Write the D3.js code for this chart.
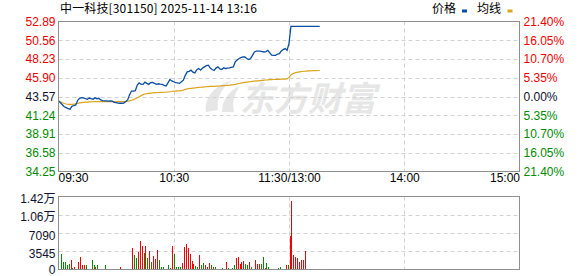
<!DOCTYPE html>
<html>
<head>
<meta charset="utf-8">
<script src="https://cdn.jsdelivr.net/npm/d3@7"></script>
<style>
  body { margin: 0; background: #fff; }
  svg { display: block; font-family: "Liberation Sans", Arial, sans-serif; }
</style>
</head>
<body>
<div class="chart"></div>
<script>
// quote header
const TITLE = "中一科技[301150] 2025-11-14 13:16";
const PREV_CLOSE = 43.57;

// price axis ticks and labels
const priceTicks = [34.25, 36.58, 38.91, 41.24, 43.57, 45.90, 48.23, 50.56, 52.89];
const pctLabels = ["21.40%", "16.05%", "10.70%", "5.35%", "0.00%", "5.35%", "10.70%", "16.05%", "21.40%"];
const timeTicks = [0, 60, 120, 180, 240];
const timeLabels = ["09:30", "10:30", "11:30/13:00", "14:00", "15:00"];

// volume axis
const volTicks = [0, 3545, 7090, 10635, 14180];
const volLabels = ["0", "3545", "7090", "1.06万", "1.42万"];

// minute prices from 09:30 (index 0) to 13:16 (index 136)
const prices = [
  43.02, 42.80, 42.55, 42.30, 42.19, 42.05, 41.99, 42.35, 42.45, 42.52,
  43.10, 43.35, 43.42, 43.40, 43.30, 43.22, 43.38, 43.30, 43.22, 43.40,
  43.28, 43.35, 43.14, 43.05, 43.02, 43.02, 43.00, 43.02, 43.00, 42.85,
  42.80, 42.75, 42.73, 42.73, 42.75, 42.95, 43.14, 43.80, 44.25, 44.25,
  44.30, 45.00, 45.27, 45.10, 45.08, 45.36, 45.20, 45.08, 45.30, 45.33,
  45.20, 45.08, 45.15, 45.10, 45.08, 44.95, 44.87, 45.27, 45.69, 45.50,
  45.40, 45.30, 45.25, 45.20, 45.40, 45.60, 46.20, 46.63, 46.70, 46.84,
  46.60, 46.51, 46.90, 47.05, 46.84, 47.10, 47.25, 47.40, 47.46, 47.10,
  46.93, 46.80, 47.10, 47.25, 47.00, 46.93, 47.13, 47.05, 47.10, 47.13,
  47.20, 47.25, 47.87, 48.10, 48.29, 48.40, 48.48, 48.48, 48.29, 48.16,
  48.30, 48.69, 49.10, 49.22, 49.22, 49.20, 49.15, 49.10, 49.15, 49.31,
  49.00, 48.70, 48.69, 48.69, 48.85, 48.90, 49.22, 49.40, 49.52, 49.31,
  50.17, 52.28, 52.28, 52.28, 52.28, 52.28, 52.28, 52.28, 52.28, 52.28,
  52.28, 52.28, 52.28, 52.28, 52.28, 52.28, 52.28
];

// average price line, same minutes
const avgPrices = [
  43.02, 42.92, 42.80, 42.70, 42.64, 42.60, 42.58, 42.60, 42.63, 42.66,
  42.72, 42.77, 42.80, 42.83, 42.86, 42.88, 42.90, 42.91, 42.92, 42.93,
  42.93, 42.93, 42.93, 42.93, 42.93, 42.93, 42.93, 42.93, 42.93, 42.93,
  42.93, 42.93, 42.93, 42.93, 42.94, 42.95, 42.98, 43.02, 43.10, 43.18,
  43.28, 43.42, 43.55, 43.68, 43.80, 43.88, 43.93, 43.97, 44.00, 44.03,
  44.05, 44.06, 44.07, 44.08, 44.09, 44.10, 44.11, 44.13, 44.16, 44.19,
  44.23, 44.25, 44.27, 44.28, 44.30, 44.38, 44.46, 44.52, 44.56, 44.59,
  44.62, 44.64, 44.67, 44.70, 44.72, 44.74, 44.76, 44.78, 44.80, 44.82,
  44.83, 44.84, 44.86, 44.87, 44.88, 44.90, 44.92, 44.94, 44.96, 44.98,
  45.01, 45.04, 45.08, 45.13, 45.19, 45.24, 45.29, 45.33, 45.36, 45.39,
  45.41, 45.44, 45.47, 45.50, 45.52, 45.55, 45.58, 45.60, 45.62, 45.64,
  45.66, 45.67, 45.68, 45.69, 45.70, 45.71, 45.72, 45.73, 45.74, 45.76,
  45.94, 46.25, 46.40, 46.50, 46.56, 46.61, 46.65, 46.68, 46.71, 46.73,
  46.75, 46.76, 46.77, 46.78, 46.79, 46.80, 46.80
];

// minute volumes from index 1 (09:31) to 136 (13:16)
const volumes = [
  3100, 1550, 1420, 840, 1160, 1940, 320, 450, 190, 1360,
  2520, 970, 840, 970, 190, 190, 1750, 780, 450, 780,
  190, 190, 190, 780, 160, 130, 130, 130, 130, 130,
  130, 390, 190, 190, 190, 190, 190, 4080, 2720, 2140,
  3490, 5630, 4530, 3300, 4530, 2200, 3560, 1360, 2590, 2010,
  3880, 1940, 390, 390, 190, 190, 970, 320, 4660, 3100,
  450, 390, 390, 1230, 4330, 5050, 4080, 3100, 1620, 1160,
  710, 390, 2720, 970, 1290, 840, 450, 1230, 840, 390,
  390, 190, 190, 190, 320, 190, 1490, 320, 190, 260,
  840, 2330, 2520, 1160, 1420, 1620, 1160, 840, 1490, 390,
  190, 1940, 1160, 1160, 1160, 2520, 320, 1290, 390, 190,
  190, 190, 190, 320, 450, 190, 190, 780, 780, 6470,
  13400, 2720, 2520, 2330, 1550, 1750, 1940, 3690, 190, 190,
  190, 190, 190, 190, 190, 190
];
// 1 = up (red), 0 = down (green)
const volUp = [
  0,0,0,0,0,1,0,1,1,1, 1,1,1,0,1,0,0,0,1,0,
  0,0,0,0,1,0,1,0,1,1, 0,1,1,1,1,1,1,1,0,0,
  1,1,1,0,1,0,1,0,1,1, 1,0,0,0,1,1,0,1,1,0,
  0,0,0,1,1,1,1,1,1,1, 0,0,1,0,0,1,1,1,0,1,
  0,1,1,0,0,1,1,0,1,0, 0,1,1,1,1,1,0,0,1,0,
  1,1,1,1,0,0,1,0,0,0, 0,1,1,0,0,1,1,1,0,1,
  1,1,1,1,1,1,1,1,1,1, 1,1,1,1,1,1
];

const RED = "#f00000";
const GREEN = "#008a00";
const DARK = "#101030";
const GRID = "#d2d2d2";
const BORDER = "#8f8f8f";
const BLUE = "#0b4da1";
const GOLD = "#dca31c";

const W = 578, H = 276;
const left = 58.5, right = 519.5;
const pTop = 21.5, pBottom = 171.5;
const vTop = 196.5, vBottom = 269.5;

const svg = d3.select(".chart").append("svg").attr("width", W).attr("height", H);

const x = d3.scaleLinear().domain([0, 240]).range([left, right]);
const yPrice = d3.scaleLinear().domain([34.25, 52.89]).range([pBottom, pTop]);
const yVol = d3.scaleLinear().domain([0, 14180]).range([vBottom, vTop]);

function colorFor(v) {
  if (Math.abs(v - PREV_CLOSE) < 0.001) return DARK;
  return v > PREV_CLOSE ? RED : GREEN;
}

// title + legend
svg.append("text")
  .attr("x", 60).attr("y", 13)
  .attr("font-family", "'Noto Sans CJK SC', sans-serif")
  .attr("font-size", 12)
  .attr("textLength", 197).attr("lengthAdjust", "spacing")
  .attr("fill", "#000")
  .text(TITLE);

const legend = svg.append("g").attr("font-family", "'Noto Sans CJK SC', sans-serif").attr("font-size", 12);
legend.append("text").attr("x", 432).attr("y", 13).text("价格");
legend.append("rect").attr("x", 462).attr("y", 9.5).attr("width", 5).attr("height", 3).attr("fill", BLUE);
legend.append("text").attr("x", 477).attr("y", 13).text("均线");
legend.append("rect").attr("x", 507.5).attr("y", 9.5).attr("width", 5).attr("height", 3).attr("fill", GOLD);

// watermark
const wm = svg.append("g").attr("fill", "#e6e6e6");
wm.append("path")
  .attr("d", "M206,112 C204,98 214,86 232,80 C222,88 216,98 218,110 Z M222,112 C222,100 230,90 240,86 C234,94 232,102 234,112 Z");
wm.append("text")
  .attr("x", 240).attr("y", 111)
  .attr("font-family", "'Noto Sans CJK SC', sans-serif")
  .attr("font-weight", "bold").attr("font-style", "italic")
  .attr("font-size", 34)
  .text("东方财富");

// price grid
const pGrid = svg.append("g");
pGrid.selectAll("line.h")
  .data(priceTicks.slice(1, -1))
  .join("line")
  .attr("class", "h")
  .attr("x1", left).attr("x2", right)
  .attr("y1", d => Math.round(yPrice(d)) + 0.5).attr("y2", d => Math.round(yPrice(d)) + 0.5)
  .attr("stroke", GRID).attr("stroke-dasharray", "4,3");
pGrid.selectAll("line.v")
  .data(timeTicks.slice(1, -1))
  .join("line")
  .attr("class", "v")
  .attr("x1", d => Math.round(x(d)) + 0.5).attr("x2", d => Math.round(x(d)) + 0.5)
  .attr("y1", pTop).attr("y2", pBottom)
  .attr("stroke", GRID).attr("stroke-dasharray", "4,3");

// volume grid
const vGrid = svg.append("g");
vGrid.selectAll("line.h")
  .data(volTicks.slice(1, -1))
  .join("line")
  .attr("class", "h")
  .attr("x1", left).attr("x2", right)
  .attr("y1", d => Math.round(yVol(d)) + 0.5).attr("y2", d => Math.round(yVol(d)) + 0.5)
  .attr("stroke", GRID).attr("stroke-dasharray", "4,3");
vGrid.selectAll("line.v")
  .data(timeTicks.slice(1, -1))
  .join("line")
  .attr("class", "v")
  .attr("x1", d => Math.round(x(d)) + 0.5).attr("x2", d => Math.round(x(d)) + 0.5)
  .attr("y1", vTop).attr("y2", vBottom)
  .attr("stroke", GRID).attr("stroke-dasharray", "4,3");

// volume bars
svg.append("g").selectAll("rect")
  .data(volumes)
  .join("rect")
  .attr("x", (d, i) => Math.floor(x(i + 1)) + 1)
  .attr("width", 1)
  .attr("y", d => Math.round(yVol(d)))
  .attr("height", d => Math.max(1, Math.round(vBottom - yVol(d))))
  .attr("fill", (d, i) => volUp[i] ? RED : GREEN);

// lines
const line = d3.line().x((d, i) => x(i)).y(d => yPrice(d));
svg.append("path").datum(avgPrices).attr("d", line)
  .attr("fill", "none").attr("stroke", GOLD).attr("stroke-width", 1.2);
svg.append("path").datum(prices).attr("d", line)
  .attr("fill", "none").attr("stroke", BLUE).attr("stroke-width", 1.3);

// frames
svg.append("rect").attr("x", left).attr("y", pTop).attr("width", right - left).attr("height", pBottom - pTop)
  .attr("fill", "none").attr("stroke", BORDER);
svg.append("rect").attr("x", left).attr("y", vTop).attr("width", right - left).attr("height", vBottom - vTop)
  .attr("fill", "none").attr("stroke", BORDER);

// left price axis
const leftAxis = svg.append("g")
  .attr("transform", `translate(${left - 3},0)`)
  .call(d3.axisLeft(yPrice).tickValues(priceTicks).tickSize(0).tickPadding(0).tickFormat(d3.format(".2f")));
leftAxis.select(".domain").remove();
leftAxis.selectAll("text")
  .attr("font-size", 12).attr("font-family", "'Liberation Sans', Arial, sans-serif")
  .attr("fill", d => colorFor(d));

// right percent axis
const rightAxis = svg.append("g")
  .attr("transform", `translate(${right + 4},0)`)
  .call(d3.axisRight(yPrice).tickValues(priceTicks).tickSize(0).tickPadding(0)
    .tickFormat(d => pctLabels[priceTicks.length - 1 - priceTicks.indexOf(d)]));
rightAxis.select(".domain").remove();
rightAxis.selectAll("text")
  .attr("font-size", 12).attr("font-family", "'Liberation Sans', Arial, sans-serif")
  .attr("fill", d => colorFor(d));

// time axis
const timeAxis = svg.append("g")
  .attr("transform", `translate(0,${pBottom + 2})`)
  .call(d3.axisBottom(x).tickValues(timeTicks).tickSize(0).tickPadding(0)
    .tickFormat(d => timeLabels[timeTicks.indexOf(d)]));
timeAxis.select(".domain").remove();
timeAxis.selectAll("text")
  .attr("font-size", 12).attr("font-family", "'Liberation Sans', Arial, sans-serif")
  .attr("fill", "#000")
  .attr("text-anchor", d => d === 0 ? "start" : d === 240 ? "end" : "middle")
  .attr("dx", d => d === 0 ? -0.5 : 0);

// volume axis
const volAxis = svg.append("g")
  .attr("transform", `translate(${left - 3},0)`)
  .call(d3.axisLeft(yVol).tickValues(volTicks).tickSize(0).tickPadding(0)
    .tickFormat(d => volLabels[volTicks.indexOf(d)]));
volAxis.select(".domain").remove();
volAxis.selectAll("text")
  .attr("font-size", 12).attr("font-family", "'Liberation Sans', 'Noto Sans CJK SC', sans-serif")
  .attr("fill", DARK)
  .attr("dy", d => d === 0 ? "0.32em" : "0.5em");
</script>
</body>
</html>
